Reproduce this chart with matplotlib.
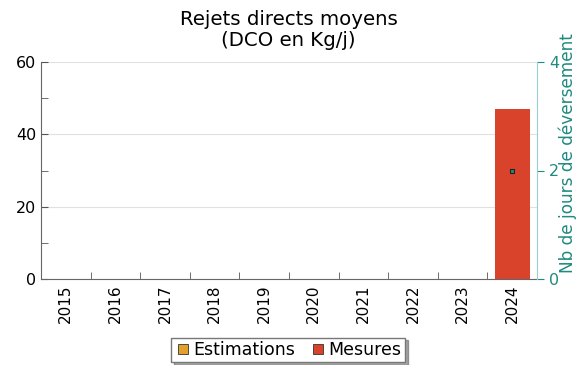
import matplotlib
matplotlib.use('Agg')
import matplotlib.pyplot as plt
from matplotlib.lines import Line2D
import numpy as np

years = ['2015', '2016', '2017', '2018', '2019', '2020', '2021', '2022', '2023', '2024']
mesures = [0, 0, 0, 0, 0, 0, 0, 0, 0, 47]
estimations = [0, 0, 0, 0, 0, 0, 0, 0, 0, 0]
jours_deversement = [None, None, None, None, None, None, None, None, None, 2]

C_MES = '#D9432B'
C_EST = '#E3A02B'
TEAL = '#1F8A80'
TEAL_LIGHT = '#9CCFCB'

fig = plt.figure(figsize=(5.77, 3.65), dpi=100)
ax = fig.add_axes([41 / 577, 1 - 279 / 365, 496 / 577, 217 / 365])

x = np.arange(len(years))
ax.bar(x, estimations, width=0.7, color=C_EST, zorder=2)
ax.bar(x, mesures, width=0.7, bottom=estimations, color=C_MES, zorder=2)

ax.set_xlim(-0.5, len(years) - 0.5)
ax.set_ylim(0, 60)
ax.set_yticks([0, 20, 40, 60])
ax.set_yticks([10, 30, 50], minor=True)
ax.yaxis.grid(True, color='#E0E0E0', lw=0.8, zorder=0)
ax.set_xticks(x)
ax.set_xticklabels(years, rotation=90, fontsize=11)
ax.set_xticks(np.arange(0.5, len(years) - 0.5), minor=True)
ax.tick_params(axis='x', which='major', length=0, pad=4)
ax.tick_params(axis='x', which='minor', direction='in', length=5, color='#555555')
ax.tick_params(axis='y', which='both', direction='in', length=5, color='#555555', labelsize=11.5)
for s in ['left', 'bottom']:
    ax.spines[s].set_color('#666666')
ax.spines['top'].set_visible(False)
ax.spines['right'].set_visible(False)

ax2 = ax.twinx()
ax2.set_ylim(0, 4)
ax2.set_yticks([0, 2, 4])
ax2.tick_params(axis='y', colors=TEAL, labelsize=11.5, length=5)
ax2.spines['right'].set_color(TEAL_LIGHT)
ax2.spines['left'].set_visible(False)
ax2.spines['top'].set_visible(False)
ax2.spines['bottom'].set_visible(False)
ax2.set_ylabel('Nb de jours de déversement', color=TEAL, fontsize=12.2)
ax2.yaxis.set_label_coords(1.043, 0.58)
jx = [i for i, v in enumerate(jours_deversement) if v is not None]
jy = [v for v in jours_deversement if v is not None]
ax2.plot(jx, jy, ls='none', marker='s', ms=3.5, mfc=TEAL, mec='#222222', mew=0.8, zorder=5)

fig.text(0.5, 1 - 30 / 365, 'Rejets directs moyens\n(DCO en Kg/j)', fontsize=14.2,
         ha='center', va='center', linespacing=1.15)

handles = [Line2D([], [], ls='none', marker='s', ms=7, mfc=C_EST, mec='#333333', mew=0.6),
           Line2D([], [], ls='none', marker='s', ms=7, mfc=C_MES, mec='#333333', mew=0.6)]
leg = fig.legend(handles, ['Estimations', 'Mesures'], loc='center', ncol=2,
                 bbox_to_anchor=(288 / 577, 1 - 350 / 365), fontsize=12.5, frameon=True,
                 fancybox=False, shadow=True, handletextpad=0.1, columnspacing=0.8,
                 borderpad=0.2, handlelength=1.0)
leg.get_frame().set_edgecolor('#777777')
leg.get_frame().set_linewidth(1.0)

fig.savefig('out.png', dpi=100)
